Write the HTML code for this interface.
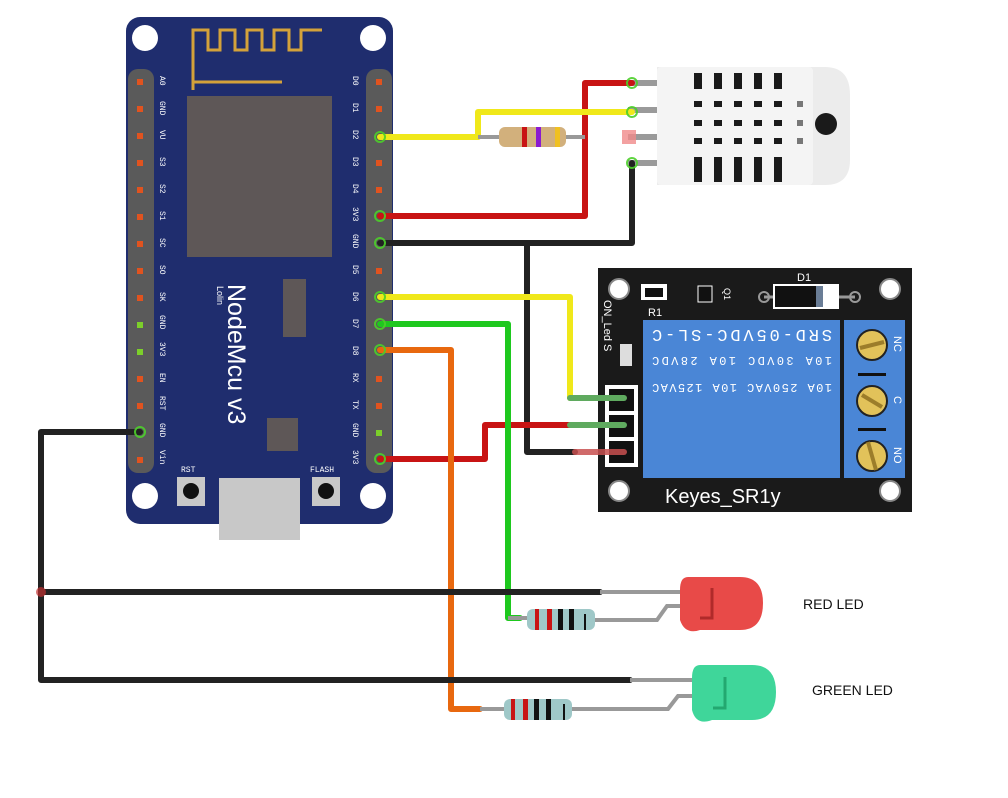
<!DOCTYPE html>
<html><head><meta charset="utf-8"><style>
html,body{margin:0;padding:0;background:#fff;}
svg{display:block;}
.m{font-family:"Liberation Mono",monospace;}
.s{font-family:"Liberation Sans",sans-serif;}
</style></head><body>
<svg width="1008" height="798" viewBox="0 0 1008 798" xmlns="http://www.w3.org/2000/svg">
<rect width="1008" height="798" fill="#fff"/>

<!-- NodeMCU board -->
<rect x="126" y="17" width="267" height="507" rx="14" fill="#1f2d6e"/>
<circle cx="145" cy="38" r="13" fill="#fff"/>
<circle cx="373" cy="38" r="13" fill="#fff"/>
<circle cx="145" cy="496" r="13" fill="#fff"/>
<circle cx="373" cy="496" r="13" fill="#fff"/>
<path d="M193 90 V30 H208 V50 H220 V30 H235 V50 H247 V30 H262 V50 H274 V30 H289 V50 H301 V30 H322 M193 82 H282" fill="none" stroke="#d4a23a" stroke-width="3"/>
<rect x="187" y="96" width="145" height="161" fill="#5e5757"/>
<rect x="283" y="279" width="23" height="58" fill="#5e5757"/>
<rect x="267" y="418" width="31" height="33" fill="#5e5757"/>
<text class="s" transform="translate(228,284) rotate(90)" font-size="25" fill="#fff">NodeMcu v3</text>
<text class="s" transform="translate(217,286) rotate(90)" font-size="9" fill="#fff">Lolin</text>
<rect x="128" y="69" width="26" height="404" rx="10" fill="#5a5a5a"/>
<rect x="366" y="69" width="26" height="404" rx="10" fill="#5a5a5a"/>
<g fill="#e0531f">
<rect x="137" y="79" width="6" height="6"/><rect x="137" y="106" width="6" height="6"/><rect x="137" y="133" width="6" height="6"/><rect x="137" y="160" width="6" height="6"/><rect x="137" y="187" width="6" height="6"/><rect x="137" y="214" width="6" height="6"/><rect x="137" y="241" width="6" height="6"/><rect x="137" y="268" width="6" height="6"/><rect x="137" y="295" width="6" height="6"/><rect x="137" y="376" width="6" height="6"/><rect x="137" y="403" width="6" height="6"/><rect x="137" y="457" width="6" height="6"/>
<rect x="376" y="79" width="6" height="6"/><rect x="376" y="106" width="6" height="6"/><rect x="376" y="160" width="6" height="6"/><rect x="376" y="187" width="6" height="6"/><rect x="376" y="268" width="6" height="6"/><rect x="376" y="376" width="6" height="6"/><rect x="376" y="403" width="6" height="6"/>
</g>
<g fill="#7ccf2a"><rect x="137" y="322" width="6" height="6"/><rect x="137" y="349" width="6" height="6"/><rect x="376" y="430" width="6" height="6"/></g>
<g font-size="8" fill="#fff" class="m">
<text class="m" transform="translate(160,76) rotate(90)">A0</text>
<text class="m" transform="translate(160,101) rotate(90)">GND</text>
<text class="m" transform="translate(160,130) rotate(90)">VU</text>
<text class="m" transform="translate(160,157) rotate(90)">S3</text>
<text class="m" transform="translate(160,184) rotate(90)">S2</text>
<text class="m" transform="translate(160,211) rotate(90)">S1</text>
<text class="m" transform="translate(160,238) rotate(90)">SC</text>
<text class="m" transform="translate(160,265) rotate(90)">SO</text>
<text class="m" transform="translate(160,292) rotate(90)">SK</text>
<text class="m" transform="translate(160,315) rotate(90)">GND</text>
<text class="m" transform="translate(160,342) rotate(90)">3V3</text>
<text class="m" transform="translate(160,373) rotate(90)">EN</text>
<text class="m" transform="translate(160,396) rotate(90)">RST</text>
<text class="m" transform="translate(160,423) rotate(90)">GND</text>
<text class="m" transform="translate(160,450) rotate(90)">Vin</text>
<text class="m" transform="translate(353,76) rotate(90)">D0</text>
<text class="m" transform="translate(353,103) rotate(90)">D1</text>
<text class="m" transform="translate(353,130) rotate(90)">D2</text>
<text class="m" transform="translate(353,157) rotate(90)">D3</text>
<text class="m" transform="translate(353,184) rotate(90)">D4</text>
<text class="m" transform="translate(353,207) rotate(90)">3V3</text>
<text class="m" transform="translate(353,234) rotate(90)">GND</text>
<text class="m" transform="translate(353,265) rotate(90)">D5</text>
<text class="m" transform="translate(353,292) rotate(90)">D6</text>
<text class="m" transform="translate(353,319) rotate(90)">D7</text>
<text class="m" transform="translate(353,346) rotate(90)">D8</text>
<text class="m" transform="translate(353,373) rotate(90)">RX</text>
<text class="m" transform="translate(353,400) rotate(90)">TX</text>
<text class="m" transform="translate(353,423) rotate(90)">GND</text>
<text class="m" transform="translate(353,450) rotate(90)">3V3</text>
<text class="m" x="181" y="472">RST</text>
<text class="m" x="310" y="472">FLASH</text>
</g>
<rect x="177" y="477" width="28" height="29" fill="#c8c8c8"/><circle cx="191" cy="491" r="8" fill="#111"/>
<rect x="312" y="477" width="28" height="29" fill="#c8c8c8"/><circle cx="326" cy="491" r="8" fill="#111"/>
<rect x="219" y="478" width="81" height="62" fill="#c8c8c8"/>

<!-- DHT sensor -->
<g fill="#9a9a9a"><rect x="628" y="80" width="30" height="6"/><rect x="628" y="107" width="30" height="6"/><rect x="628" y="134" width="30" height="6"/><rect x="628" y="160" width="30" height="6"/></g>
<path d="M657 67 H825 Q850 67 850 95 V160 Q850 185 825 185 H657 Z" fill="#ececec"/>
<rect x="657" y="67" width="156" height="118" rx="4" fill="#f4f4f4"/>
<g fill="#1a1a1a">
<rect x="694" y="73" width="8" height="16"/><rect x="714" y="73" width="8" height="16"/><rect x="734" y="73" width="8" height="16"/><rect x="754" y="73" width="8" height="16"/><rect x="774" y="73" width="8" height="16"/>
<rect x="694" y="101" width="8" height="6"/><rect x="714" y="101" width="8" height="6"/><rect x="734" y="101" width="8" height="6"/><rect x="754" y="101" width="8" height="6"/><rect x="774" y="101" width="8" height="6"/>
<rect x="694" y="120" width="8" height="6"/><rect x="714" y="120" width="8" height="6"/><rect x="734" y="120" width="8" height="6"/><rect x="754" y="120" width="8" height="6"/><rect x="774" y="120" width="8" height="6"/>
<rect x="694" y="138" width="8" height="6"/><rect x="714" y="138" width="8" height="6"/><rect x="734" y="138" width="8" height="6"/><rect x="754" y="138" width="8" height="6"/><rect x="774" y="138" width="8" height="6"/>
<rect x="694" y="157" width="8" height="25"/><rect x="714" y="157" width="8" height="25"/><rect x="734" y="157" width="8" height="25"/><rect x="754" y="157" width="8" height="25"/><rect x="774" y="157" width="8" height="25"/>
<circle cx="826" cy="124" r="11"/>
</g>
<g fill="#777"><rect x="797" y="101" width="6" height="6"/><rect x="797" y="120" width="6" height="6"/><rect x="797" y="138" width="6" height="6"/></g>
<rect x="622" y="130" width="14" height="14" fill="#f08a8a" opacity="0.8"/>

<!-- Relay -->
<rect x="598" y="268" width="314" height="244" fill="#1a1a1a"/>
<circle cx="619" cy="289" r="10" fill="#fff" stroke="#888" stroke-width="2"/>
<circle cx="890" cy="289" r="10" fill="#fff" stroke="#888" stroke-width="2"/>
<circle cx="619" cy="491" r="10" fill="#fff" stroke="#888" stroke-width="2"/>
<circle cx="890" cy="491" r="10" fill="#fff" stroke="#888" stroke-width="2"/>
<rect x="643" y="320" width="197" height="158" fill="#4a86d6"/>
<rect x="844" y="320" width="61" height="158" fill="#4a86d6"/>
<rect x="858" y="373" width="28" height="3" fill="#111"/><rect x="858" y="428" width="28" height="3" fill="#111"/>
<g fill="#e2c25a" stroke="#222" stroke-width="2"><circle cx="872" cy="345" r="15"/><circle cx="872" cy="401" r="15"/><circle cx="872" cy="456" r="15"/></g>
<g stroke="#9c7d2a" stroke-width="4"><line x1="860" y1="348" x2="884" y2="342"/><line x1="862" y1="395" x2="882" y2="407"/><line x1="868" y1="442" x2="876" y2="470"/></g>
<g fill="#fff" font-size="11">
<text class="s" transform="translate(894,336) rotate(90)">NC</text>
<text class="s" transform="translate(894,396) rotate(90)">C</text>
<text class="s" transform="translate(894,447) rotate(90)">NO</text>
<text class="s" transform="translate(604,300) rotate(90)">ON_Led S</text>
</g>
<g fill="#fff">
<text class="m" transform="translate(832,330) rotate(180)" font-size="17" textLength="180">SRD-05VDC-SL-C</text>
<text class="m" transform="translate(832,357) rotate(180)" font-size="12" textLength="180">10A 30VDC 10A 28VDC</text>
<text class="m" transform="translate(832,384) rotate(180)" font-size="12" textLength="180">10A 250VAC 10A 125VAC</text>
</g>
<text class="s" x="665" y="503" fill="#fff" font-size="20">Keyes_SR1y</text>
<rect x="641" y="284" width="26" height="16" fill="#fff"/><rect x="645" y="288" width="18" height="9" fill="#111"/>
<text class="s" x="648" y="316" fill="#fff" font-size="11">R1</text>
<rect x="698" y="286" width="14" height="16" fill="#111" stroke="#fff" stroke-width="1"/>
<text class="s" transform="translate(724,288) rotate(90)" fill="#fff" font-size="9">Q1</text>
<line x1="764" y1="297" x2="855" y2="297" stroke="#999" stroke-width="3"/>
<circle cx="764" cy="297" r="5" fill="none" stroke="#999" stroke-width="2"/><circle cx="855" cy="297" r="5" fill="none" stroke="#999" stroke-width="2"/>
<rect x="773" y="284" width="66" height="25" fill="#fff"/><rect x="775" y="286" width="48" height="21" fill="#111"/><rect x="816" y="286" width="7" height="21" fill="#6a7d96"/>
<text class="s" x="797" y="281" fill="#fff" font-size="11">D1</text>
<rect x="620" y="344" width="12" height="22" fill="#ddd"/>
<rect x="605" y="385" width="33" height="82" fill="#fff"/>
<g fill="#111"><rect x="609" y="389" width="25" height="22"/><rect x="609" y="415" width="25" height="22"/><rect x="609" y="441" width="25" height="22"/></g>

<!-- wires -->
<g fill="none" stroke-linecap="round" stroke-linejoin="round" stroke-width="6">
<path d="M380 243 H632 V163" stroke="#222"/>
<path d="M527 243 V452 H575" stroke="#222"/>
<path d="M575 452 H624" stroke="#c85050" opacity="0.85"/>
<path d="M380 216 H585 V83 H632" stroke="#c81414"/>
<path d="M380 137 H478" stroke="#f0e81a"/>
<path d="M478 137 V112 H632" stroke="#f0e81a"/>
<path d="M380 297 H570 V398" stroke="#f0e81a"/>
<path d="M570 398 H624" stroke="#5faa5f"/>
<path d="M380 459 H485 V425 H570" stroke="#c81414"/>
<path d="M570 425 H624" stroke="#5faa5f"/>
<path d="M380 324 H508 V618 H520" stroke="#1ec81e"/>
<path d="M380 350 H451 V709 H480" stroke="#e8680f"/>
<path d="M140 432 H41 V680 H630" stroke="#222"/>
<path d="M41 592 H600" stroke="#222"/>
</g>
<line x1="478" y1="137" x2="585" y2="137" stroke="#999" stroke-width="4"/>
<rect x="499" y="127" width="67" height="20" rx="6" fill="#d2b07c"/>
<rect x="522" y="127" width="5" height="20" fill="#c81414"/><rect x="536" y="127" width="5" height="20" fill="#8a1ad0"/><rect x="555" y="127" width="5" height="20" fill="#f0c020"/>
<g fill="none" stroke="#999" stroke-width="4">
<path d="M600 592 H680"/><path d="M594 620 H657 L667 606 H680"/>
<path d="M630 680 H692"/><path d="M571 709 H668 L678 696 H692"/>
<line x1="508" y1="618" x2="527" y2="618"/><line x1="480" y1="709" x2="504" y2="709"/>
</g>
<rect x="527" y="609" width="68" height="21" rx="6" fill="#9fc8c8"/>
<rect x="535" y="609" width="4" height="21" fill="#c81414"/><rect x="547" y="609" width="5" height="21" fill="#c81414"/><rect x="558" y="609" width="5" height="21" fill="#111"/><rect x="569" y="609" width="5" height="21" fill="#111"/><rect x="584" y="614" width="2" height="16" fill="#111"/>
<rect x="504" y="699" width="68" height="21" rx="6" fill="#9fc8c8"/>
<rect x="511" y="699" width="4" height="21" fill="#c81414"/><rect x="523" y="699" width="5" height="21" fill="#c81414"/><rect x="534" y="699" width="5" height="21" fill="#111"/><rect x="546" y="699" width="5" height="21" fill="#111"/><rect x="563" y="704" width="2" height="16" fill="#111"/>
<path d="M688 577 H740 Q763 577 763 603 Q763 630 740 630 H700 Q685 635 680 620 V590 Q680 577 688 577 Z" fill="#e84a48"/>
<path d="M712 588 V618 L700 618" fill="none" stroke="#b02a2a" stroke-width="3"/>
<path d="M700 665 H752 Q776 665 776 692 Q776 720 752 720 H712 Q696 726 692 710 V678 Q692 665 700 665 Z" fill="#3fd69a"/>
<path d="M725 677 V708 L713 708" fill="none" stroke="#23a870" stroke-width="3"/>
<g stroke="#4ccf2a" stroke-width="2" opacity="0.9" fill="none">
<circle cx="380" cy="137" r="5"/><circle cx="380" cy="216" r="5"/><circle cx="380" cy="243" r="5"/><circle cx="380" cy="297" r="5"/><circle cx="380" cy="324" r="5"/><circle cx="380" cy="350" r="5"/><circle cx="380" cy="459" r="5"/><circle cx="140" cy="432" r="5"/>
<circle cx="632" cy="83" r="5"/><circle cx="632" cy="112" r="5"/><circle cx="632" cy="163" r="5"/>
</g>
<circle cx="41" cy="592" r="5" fill="#c03030" opacity="0.7"/>
<g font-size="14" fill="#111">
<text class="s" x="803" y="609">RED LED</text>
<text class="s" x="812" y="695">GREEN LED</text>
</g>
</svg>
</body></html>
